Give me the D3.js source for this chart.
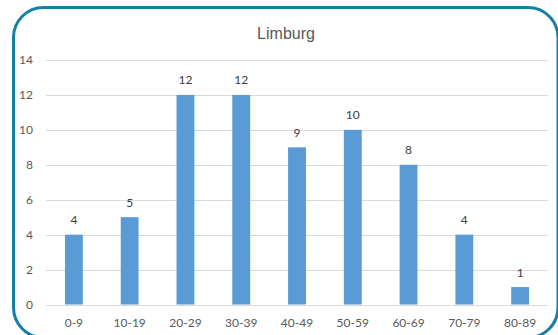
<!DOCTYPE html>
<html>
<head>
<meta charset="utf-8">
<script src="https://cdn.jsdelivr.net/npm/d3@7"></script>
<style>
  html, body { margin: 0; padding: 0; background: #fff; }
  svg { display: block; }
</style>
</head>
<body>
<script>
// Age groups and counts for Limburg
const categories = ["0-9", "10-19", "20-29", "30-39", "40-49", "50-59", "60-69", "70-79", "80-89"];
const counts = [4, 5, 12, 12, 9, 10, 8, 4, 1];
const yTicks = [0, 2, 4, 6, 8, 10, 12, 14];
const title = "Limburg";

const W = 558, H = 335;
const margin = { left: 46, right: 10, top: 60, bottom: 30.5 };
const labelFont = "Lato, 'Open Sans', sans-serif";

const svg = d3.select("body").append("svg")
  .attr("width", W).attr("height", H);

// rounded frame (runs slightly past the right and bottom edges)
svg.append("rect")
  .attr("x", 13.5).attr("y", 7.5)
  .attr("width", 544.5).attr("height", 330)
  .attr("rx", 30).attr("ry", 30)
  .attr("fill", "#fff")
  .attr("stroke", "#1580a5")
  .attr("stroke-width", 3);

const x = d3.scaleBand()
  .domain(categories)
  .range([margin.left, W - margin.right])
  .paddingInner(0.68)
  .paddingOuter(0.34);

const y = d3.scaleLinear()
  .domain([0, 14])
  .range([H - margin.bottom, margin.top]);

// gridlines
svg.append("g")
  .selectAll("line")
  .data(yTicks)
  .join("line")
  .attr("x1", margin.left).attr("x2", W - margin.right)
  .attr("y1", d => Math.round(y(d)) + 0.5)
  .attr("y2", d => Math.round(y(d)) + 0.5)
  .attr("stroke", "#d9d9d9")
  .attr("stroke-width", 1);

// y axis labels
const yAxis = d3.axisLeft(y).tickValues(yTicks).tickSize(0).tickPadding(0);
const gy = svg.append("g")
  .attr("transform", `translate(33,0)`)
  .call(yAxis);
gy.select(".domain").remove();
gy.selectAll("text")
  .attr("fill", "#595959")
  .style("font-family", labelFont)
  .style("font-size", "12px");

// x axis labels
const xAxis = d3.axisBottom(x).tickSize(0).tickPadding(0);
const gx = svg.append("g")
  .attr("transform", `translate(0,318)`)
  .call(xAxis);
gx.select(".domain").remove();
gx.selectAll("text")
  .attr("fill", "#595959")
  .style("font-family", labelFont)
  .style("font-size", "12px");

// bars
svg.append("g")
  .selectAll("rect")
  .data(categories)
  .join("rect")
  .attr("x", d => x(d))
  .attr("width", x.bandwidth())
  .attr("y", (d, i) => y(counts[i]))
  .attr("height", (d, i) => y(0) - y(counts[i]))
  .attr("fill", "#5b9bd5");

// value labels
svg.append("g")
  .selectAll("text")
  .data(categories)
  .join("text")
  .attr("x", d => x(d) + x.bandwidth() / 2)
  .attr("y", (d, i) => y(counts[i]) - 10.5)
  .attr("text-anchor", "middle")
  .attr("fill", "#404040")
  .style("font-family", labelFont)
  .style("font-size", "12px")
  .text((d, i) => counts[i]);

// title
svg.append("text")
  .attr("x", 286).attr("y", 39)
  .attr("text-anchor", "middle")
  .attr("fill", "#595959")
  .style("font-family", "'Liberation Sans', Arial, sans-serif")
  .style("font-size", "16px")
  .text(title);
</script>
</body>
</html>
